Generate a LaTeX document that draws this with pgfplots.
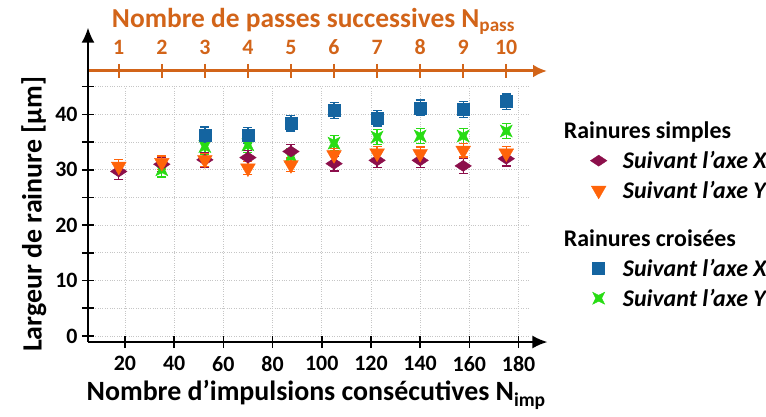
\documentclass[border=0pt]{standalone}
\usepackage{fontspec}
\setmainfont{Carlito}
\usepackage{pgfplots}
\pgfplotsset{compat=1.18}
\usetikzlibrary{arrows.meta}
\definecolor{cSX}{RGB}{140,15,75}
\definecolor{cSY}{RGB}{255,100,10}
\definecolor{cCX}{RGB}{20,100,160}
\definecolor{cCY}{RGB}{40,220,20}
\definecolor{axorange}{RGB}{210,100,25}
\pgfdeclareplotmark{concave}{%
 \pgfpathmoveto{\pgfqpoint{\pgfplotmarksize}{\pgfplotmarksize}}%
 \pgfpathlineto{\pgfqpoint{0pt}{0.5\pgfplotmarksize}}%
 \pgfpathlineto{\pgfqpoint{-\pgfplotmarksize}{\pgfplotmarksize}}%
 \pgfpathlineto{\pgfqpoint{-0.5\pgfplotmarksize}{0pt}}%
 \pgfpathlineto{\pgfqpoint{-\pgfplotmarksize}{-\pgfplotmarksize}}%
 \pgfpathlineto{\pgfqpoint{0pt}{-0.5\pgfplotmarksize}}%
 \pgfpathlineto{\pgfqpoint{\pgfplotmarksize}{-\pgfplotmarksize}}%
 \pgfpathlineto{\pgfqpoint{0.5\pgfplotmarksize}{0pt}}%
 \pgfpathclose
 \pgfusepathqfillstroke}
\pgfplotstableread{
x y e
17.5 29.7 1.5
35 31.0 1.3
52.5 31.8 1.3
70 32.2 1.3
87.5 33.3 1.3
105 31.1 1.3
122.5 31.7 1.3
140 31.7 1.3
157.5 30.7 1.4
175 32.0 1.3
}\simplesX
\pgfplotstableread{
x y e
17.5 30.6 1.2
35 31.3 1.2
52.5 31.8 1.2
70 30.3 1.2
87.5 30.9 1.2
105 32.7 1.2
122.5 33.0 1.2
140 32.9 1.2
157.5 33.5 1.2
175 33.0 1.2
}\simplesY
\pgfplotstableread{
x y e
52.5 36.3 1.4
70 36.2 1.4
87.5 38.4 1.4
105 40.7 1.4
122.5 39.3 1.4
140 41.2 1.4
157.5 40.9 1.4
175 42.3 1.4
}\croisX
\pgfplotstableread{
x y e
35 30.0 1.3
52.5 34.2 1.4
70 34.5 1.4
87.5 32.4 1.4
105 34.8 1.4
122.5 35.9 1.4
140 36.1 1.4
157.5 36.1 1.4
175 37.0 1.4
}\croisY
\begin{document}
\begin{tikzpicture}[x=1bp,y=1bp]
\path[use as bounding box] (-88,-74) rectangle (678,342);
% top axis (passes)
\begin{axis}[at={(0,0)}, anchor=south west, scale only axis,
 width=459bp, height=271bp,
 xmin=0.2857, xmax=10.947, ymin=0, ymax=1,
 axis x line=top, axis y line=none,
 x axis line style={draw=axorange, line width=3bp, -{Latex[length=14bp,width=13bp]}},
 xtick={1,...,10}, tick align=center, major tick length=14bp,
 tick style={draw=axorange, line width=1.8bp},
 /pgf/number format/assume math mode=true,
 xticklabel style={text=axorange, font=\bfseries\fontsize{22}{22}\selectfont, yshift=6bp},
 xlabel={Nombre de passes successives N\textsubscript{pass}},
 xlabel style={text=axorange, font=\bfseries\fontsize{27.5}{30}\selectfont, xshift=-4bp, yshift=-2bp},
]
\end{axis}
\begin{axis}[at={(0,0)}, anchor=south west, scale only axis,
 width=440.4bp, height=255.3bp,
 xmin=5, xmax=184, ymin=-1.1, ymax=45,
 axis x line=bottom, axis y line=left,
 x axis line style={line width=1.8bp, -{Latex[length=15bp,width=13bp]}, shorten >=-19bp},
 y axis line style={line width=1.8bp, -{Latex[length=15bp,width=13bp]}, shorten >=-59bp},
 tick align=center, major tick length=12bp, minor tick length=12bp,
 tick style={black, line width=1.6bp},
 xtick={20,40,...,180}, ytick={0,10,...,40}, minor ytick={5,15,...,45},
 grid=both, major grid style={gray!45, dotted, line width=0.8bp},
 minor grid style={gray!45, dotted, line width=0.8bp},
 /pgf/number format/assume math mode=true,
 ticklabel style={font=\bfseries\fontsize{22}{22}\selectfont},
 xticklabel style={yshift=-5bp},
 yticklabel style={xshift=-1bp},
 xlabel={Nombre d’impulsions consécutives N\textsubscript{imp}},
 ylabel={Largeur de rainure [µm]},
 label style={font=\bfseries\fontsize{28}{30}\selectfont},
 xlabel style={xshift=8bp, yshift=-2bp},
 ylabel style={yshift=2bp},
 clip=false,
 legend cell align=left,
 legend style={draw=none, fill=none, at={(1.133,0.878)}, anchor=north west,
   font=\bfseries\fontsize{24}{26}\selectfont, row sep=7bp, column sep=14bp},
]
\addplot[only marks, mark=concave, mark size=6bp, draw=cCY, fill=cCY, forget plot,
 error bars/.cd, y dir=both, y explicit,
 error bar style={draw=cCY, line width=1.3bp},
 error mark options={rotate=90, mark size=4.5bp, draw=cCY, line width=1.3bp}]
 table[x=x, y=y, y error=e] {\croisY};
\addplot[only marks, mark=square*, mark size=6bp, draw=cCX, fill=cCX, forget plot,
 error bars/.cd, y dir=both, y explicit,
 error bar style={draw=cCX, line width=1.3bp},
 error mark options={rotate=90, mark size=4.5bp, draw=cCX, line width=1.3bp}]
 table[x=x, y=y, y error=e] {\croisX};
\addplot[only marks, mark=diamond*, mark size=5.5bp, mark options={xscale=2}, draw=cSX, fill=cSX, forget plot,
 error bars/.cd, y dir=both, y explicit,
 error bar style={draw=cSX, line width=1.3bp},
 error mark options={rotate=90, mark size=4.5bp, draw=cSX, line width=1.3bp}]
 table[x=x, y=y, y error=e] {\simplesX};
\addplot[only marks, mark=triangle*, mark size=8.5bp, mark options={rotate=180}, draw=cSY, fill=cSY, forget plot,
 error bars/.cd, y dir=both, y explicit,
 error bar style={draw=cSY, line width=1.3bp},
 error mark options={rotate=90, mark size=4.5bp, draw=cSY, line width=1.3bp}]
 table[x=x, y=y, y error=e] {\simplesY};
\addlegendimage{empty legend}
\addlegendentry{\makebox[0pt][l]{\hspace*{-59bp}Rainures simples}}
\addlegendimage{only marks, mark=diamond*, mark size=5.5bp, mark options={xscale=2}, draw=cSX, fill=cSX}
\addlegendentry{\textit{Suivant l’axe X}}
\addlegendimage{only marks, mark=triangle*, mark size=8.5bp, mark options={rotate=180}, draw=cSY, fill=cSY}
\addlegendentry{\textit{Suivant l’axe Y}}
\addlegendimage{empty legend}
\addlegendentry{\makebox[0pt][l]{\hspace*{-59bp}\rule{0pt}{36bp}Rainures croisées}}
\addlegendimage{only marks, mark=square*, mark size=6bp, draw=cCX, fill=cCX}
\addlegendentry{\textit{Suivant l’axe X}}
\addlegendimage{only marks, mark=concave, mark size=6bp, draw=cCY, fill=cCY}
\addlegendentry{\textit{Suivant l’axe Y}}
\end{axis}
\end{tikzpicture}
\end{document}
